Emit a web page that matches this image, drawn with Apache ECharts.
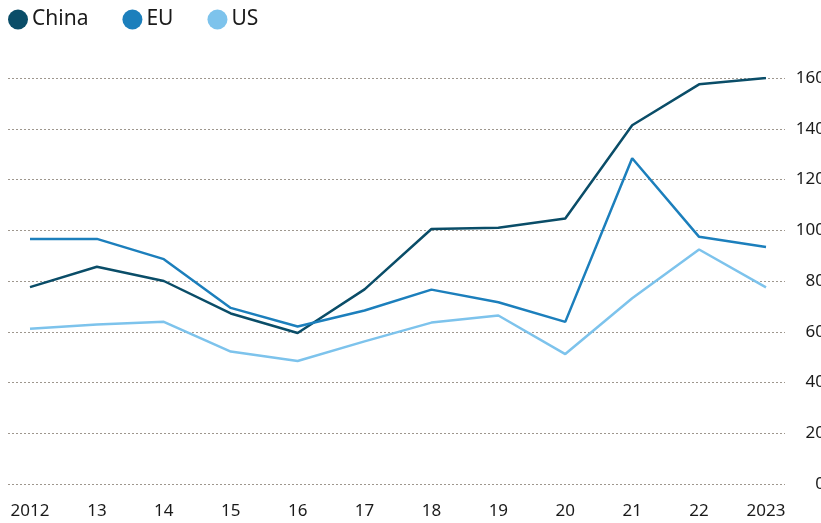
<!DOCTYPE html>
<html>
<head>
<meta charset="utf-8">
<script src="https://cdn.jsdelivr.net/npm/echarts@6/dist/echarts.min.js"></script>
<style>
html,body{margin:0;padding:0;background:#fff;overflow:hidden;}
#c{width:845px;height:523px;}
</style>
</head>
<body>
<div id="c"></div>
<script>
const years = ['2012','13','14','15','16','17','18','19','20','21','22','2023'];
const china = [77.6, 85.6, 80.0, 67.2, 59.5, 76.7, 100.5, 101.0, 104.6, 141.4, 157.5, 160.0];
const eu    = [96.6, 96.6, 88.6, 69.4, 62.1, 68.4, 76.6, 71.6, 63.9, 128.4, 97.4, 93.4];
const us    = [61.2, 62.9, 63.9, 52.2, 48.5, 56.2, 63.6, 66.4, 51.2, 73.2, 92.4, 77.5];
const yTicks = [0, 20, 40, 60, 80, 100, 120, 140, 160];

const colors = {China:'#0a4d68', EU:'#1c7fbc', US:'#7dc3ec'};
const font = "'Noto Sans', 'Open Sans', sans-serif";

const chart = echarts.init(document.getElementById('c'), null, {renderer:'canvas'});
const mk = (name, data) => ({
  name, type:'line', data, xAxisIndex:1, yAxisIndex:1,
  symbol:'none', smooth:false,
  lineStyle:{width:2.5, color:colors[name]},
  itemStyle:{color:colors[name]},
  animation:false
});
chart.setOption({
  animation:false,
  backgroundColor:'#fff',
  legend:{
    left:3, top:4, icon:'circle', itemWidth:20, itemHeight:20, itemGap:34,
    data:['China','EU','US'],
    textStyle:{fontFamily:font, fontSize:21, color:'#1a1a1a', padding:[0,0,0,-1]}
  },
  grid:[
    {left:8, right:60, top:78, bottom:39, containLabel:false},
    {left:30, right:79, top:78, bottom:39, containLabel:false}
  ],
  xAxis:[
    {gridIndex:0, type:'value', min:0, max:1, show:false},
    {gridIndex:1, type:'category', data:years, boundaryGap:false,
     axisLine:{show:false}, axisTick:{show:false}, splitLine:{show:false},
     axisLabel:{interval:0, margin:19, fontFamily:font, fontSize:17, color:'#1a1a1a'}}
  ],
  yAxis:[
    {gridIndex:0, type:'value', position:'right', min:yTicks[0], max:yTicks[yTicks.length-1], interval:20,
     axisLine:{show:false}, axisTick:{show:false},
     splitLine:{show:true, lineStyle:{type:[2,2], color:'#9e978e', width:1}},
     axisLabel:{margin:40, fontFamily:font, fontSize:17, color:'#1a1a1a', align:'right'}},
    {gridIndex:1, type:'value', min:0, max:160, show:false}
  ],
  series:[mk('China', china), mk('EU', eu), mk('US', us)]
});
</script>
</body>
</html>
